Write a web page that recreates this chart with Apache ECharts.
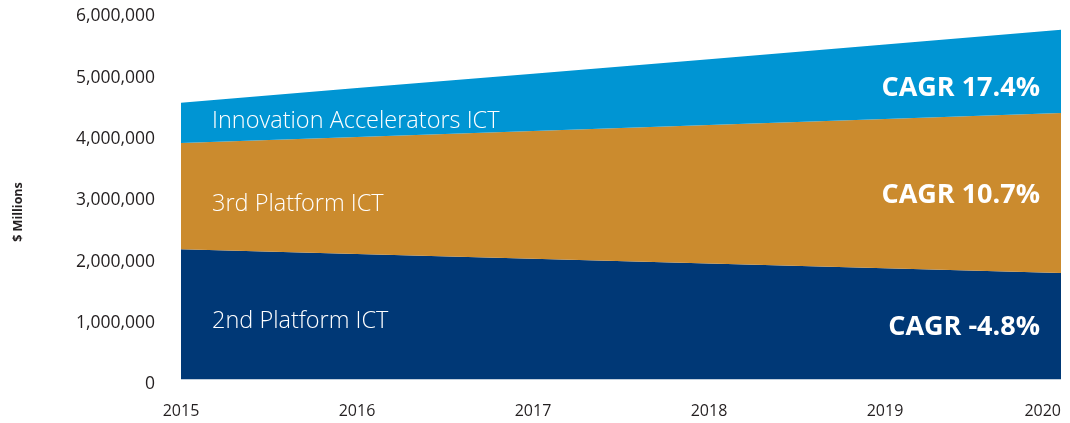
<!DOCTYPE html>
<html>
<head>
<meta charset="utf-8">
<script src="https://cdn.jsdelivr.net/npm/echarts@6/dist/echarts.min.js"></script>
<style>
  html, body { margin: 0; padding: 0; background: #fff; }
  #chart { width: 1070px; height: 423px; }
</style>
</head>
<body>
<div id="chart"></div>
<script>
// data ($ millions)
var years = ['2015', '2016', '2017', '2018', '2019', '2020']
var secondPlatform = [2123000, 2046000, 1968000, 1891000, 1813000, 1736000]
var thirdPlatform = [1733000, 1908000, 2084000, 2258000, 2434000, 2609000]
var innovation = [657000, 797000, 934000, 1074000, 1214000, 1356000]
var seriesNames = ['2nd Platform ICT', '3rd Platform ICT', 'Innovation Accelerators ICT']
var cagrLabels = ['CAGR -4.8%', 'CAGR 10.7%', 'CAGR 17.4%']

var colors = ['#003876', '#CB8B2E', '#0095D3']
var font = '"Open Sans", "Noto Sans", sans-serif'

var chart = echarts.init(document.getElementById('chart'))

function areaSeries (name, data, color) {
  return {
    name: name,
    type: 'line',
    stack: 'total',
    data: data,
    showSymbol: false,
    symbol: 'none',
    lineStyle: { width: 0 },
    areaStyle: { color: color, opacity: 1 },
    itemStyle: { color: color },
    silent: true
  }
}

// text inside the bands
var inside = [
  { text: seriesNames[2], x: 212, y: 121 },
  { text: seriesNames[1], x: 212, y: 204 },
  { text: seriesNames[0], x: 212, y: 321 }
]
var cagrPos = [
  { text: cagrLabels[2], y: 88 },
  { text: cagrLabels[1], y: 195 },
  { text: cagrLabels[0], y: 327 }
]

var graphics = []
inside.forEach(function (t) {
  graphics.push({
    type: 'text', x: t.x, y: t.y, z: 10,
    style: { text: t.text, fill: '#fff', font: '300 23.5px ' + font, textVerticalAlign: 'middle' }
  })
})
cagrPos.forEach(function (t) {
  graphics.push({
    type: 'text', x: 1040, y: t.y, z: 10,
    style: { text: t.text, fill: '#fff', font: 'bold 27px ' + font, textAlign: 'right', textVerticalAlign: 'middle' }
  })
})
graphics.push({
  type: 'text', x: 18, y: 212, rotation: Math.PI / 2, z: 10,
  style: { text: '$ Millions', fill: '#231f20', font: 'bold 12.5px ' + font, textAlign: 'center', textVerticalAlign: 'middle' }
})

var yLabel = {
  color: '#231f20', fontFamily: font, fontSize: 17.5, margin: 26,
  formatter: function (v) { return v.toLocaleString('en-US') }
}

chart.setOption({
  animation: false,
  // grid 0 holds the areas, grid 1 only carries the tick labels a few px lower
  grid: [
    { left: 181, right: 9, top: 11.5, bottom: 43.5 },
    { left: 181, right: 9, top: 16.5, bottom: 38.5 }
  ],
  xAxis: [
    {
      type: 'category',
      data: years,
      boundaryGap: false,
      axisLine: { show: false },
      axisTick: { show: false },
      axisLabel: {
        color: '#231f20', fontFamily: font, fontSize: 16, margin: 24,
        alignMaxLabel: 'right'
      }
    },
    { type: 'category', gridIndex: 1, data: years, show: false }
  ],
  yAxis: [
    {
      type: 'value',
      min: 0,
      max: 6000000,
      interval: 1000000,
      splitLine: { show: false },
      axisLine: { show: false },
      axisTick: { show: false },
      axisLabel: { show: false }
    },
    {
      type: 'value',
      gridIndex: 1,
      min: 0,
      max: 6000000,
      interval: 1000000,
      splitLine: { show: false },
      axisLine: { show: false },
      axisTick: { show: false },
      axisLabel: yLabel
    }
  ],
  series: [
    areaSeries(seriesNames[0], secondPlatform, colors[0]),
    areaSeries(seriesNames[1], thirdPlatform, colors[1]),
    areaSeries(seriesNames[2], innovation, colors[2])
  ],
  graphic: graphics
})
</script>
</body>
</html>
